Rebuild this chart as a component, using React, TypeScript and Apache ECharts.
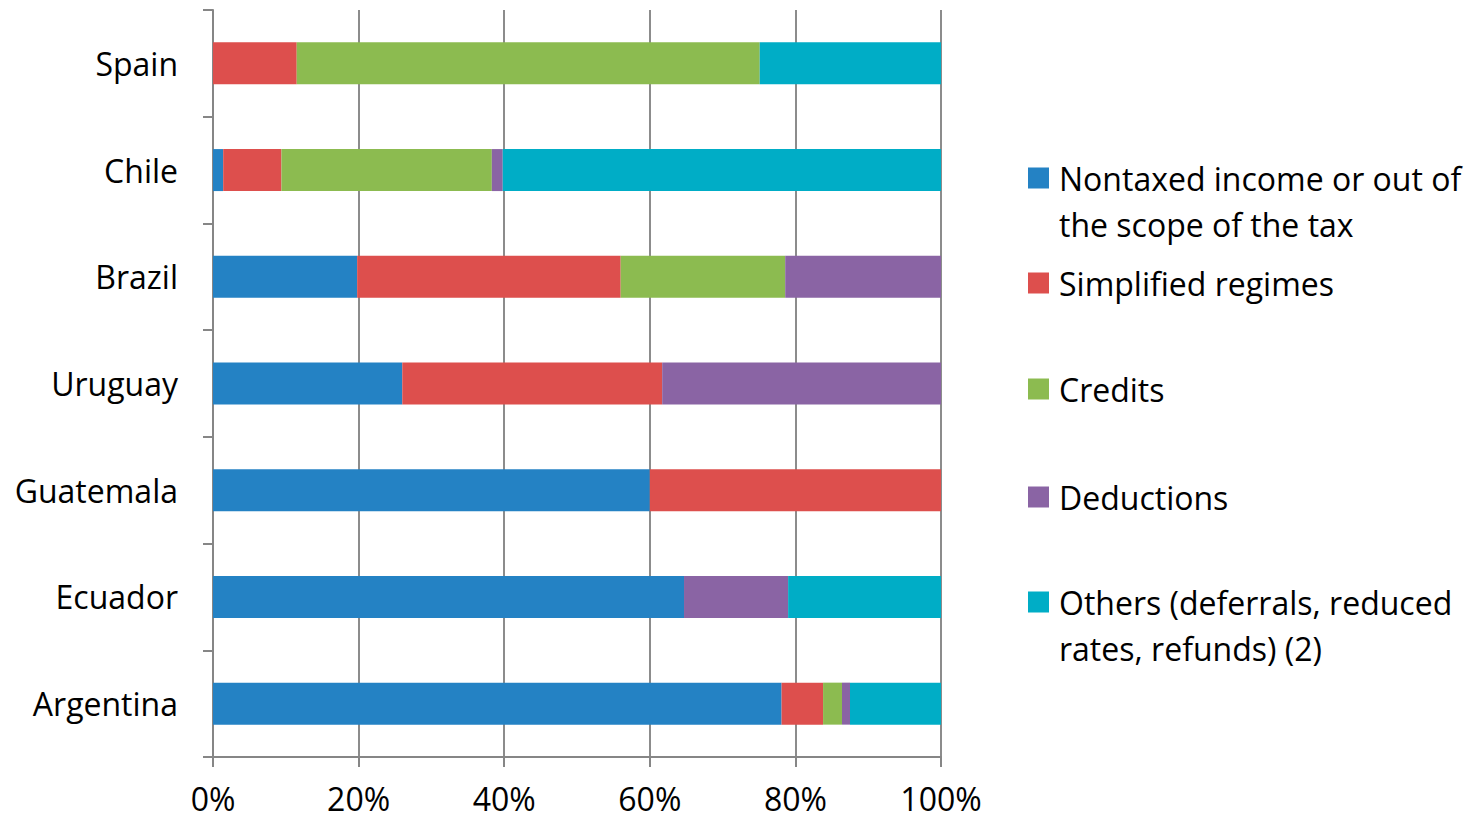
import React, { useEffect, useRef } from "react";
import * as echarts from "echarts";

const categories = ["Argentina", "Ecuador", "Guatemala", "Uruguay", "Brazil", "Chile", "Spain"];
const seriesNames = [
  "Nontaxed income or out of the scope of the tax",
  "Simplified regimes",
  "Credits",
  "Deductions",
  "Others (deferrals, reduced rates, refunds) (2)",
];
const legendLabels = [
  "Nontaxed income or out of\nthe scope of the tax",
  "Simplified regimes",
  "Credits",
  "Deductions",
  "Others (deferrals, reduced\nrates, refunds) (2)",
];
const nontaxed = [78.1, 64.7, 60.0, 26.0, 19.8, 1.4, 0];
const simplified = [5.7, 0, 40.0, 35.7, 36.2, 8.0, 11.5];
const credits = [2.6, 0, 0, 0, 22.6, 28.9, 63.6];
const deductions = [1.1, 14.3, 0, 38.3, 21.4, 1.5, 0];
const others = [12.5, 21.0, 0, 0, 0, 60.2, 24.9];
const xTicks = [0, 20, 40, 60, 80, 100];

const colors = ["#2482C4", "#DD4F4D", "#8CBB50", "#8A64A4", "#00ADC6"];
const FONT = "Open Sans";
const FS = 32;

// square icon at top, with an invisible point below to keep the first text line aligned with it
const TALL_ICON = "path://M0,0L21,0L21,21L0,21Z M0,67L0,67Z";

export default function App() {
  const ref = useRef<HTMLDivElement>(null);
  useEffect(() => {
    if (!ref.current) return;
    const chart = echarts.init(ref.current, null, { renderer: "svg" });
    const values = [nontaxed, simplified, credits, deductions, others];
    const iconCenters = [178, 283, 389, 497, 602];
    const twoLine = [true, false, false, false, true];
    chart.setOption({
      animation: false,
      textStyle: { fontFamily: FONT },
      grid: { left: 213, right: 534, top: 10, bottom: 63, containLabel: false },
      xAxis: {
        type: "value",
        min: xTicks[0],
        max: xTicks[xTicks.length - 1],
        interval: 20,
        axisLine: { show: true, lineStyle: { color: "#868686", width: 2 } },
        axisTick: { show: true, length: 10, lineStyle: { color: "#868686", width: 2 } },
        splitLine: { show: true, lineStyle: { color: "#8c8c8c", width: 2 } },
        axisLabel: {
          formatter: (v: number) => v + "%",
          color: "#000",
          fontSize: FS,
          fontFamily: FONT,
          lineHeight: 28,
          margin: 27,
        },
      },
      yAxis: {
        type: "category",
        data: categories,
        axisLine: { show: true, lineStyle: { color: "#868686", width: 2 } },
        axisTick: { show: true, length: 10, lineStyle: { color: "#868686", width: 2 } },
        axisLabel: { color: "#000", fontSize: FS, fontFamily: FONT, margin: 35 },
      },
      legend: seriesNames.map((name, i) => ({
        show: true,
        left: 1028,
        top: twoLine[i] ? iconCenters[i] - 10.5 - 12.5 : iconCenters[i] - 23,
        padding: 0,
        itemWidth: 21,
        itemHeight: twoLine[i] ? 67 : 21,
        icon: twoLine[i] ? TALL_ICON : "rect",
        selectedMode: false,
        data: [name],
        formatter: () => legendLabels[i],
        textStyle: {
          color: "#000",
          fontSize: FS,
          fontFamily: FONT,
          lineHeight: 46,
          padding: [0, 0, 0, 5],
        },
      })),
      series: seriesNames.map((name, i) => ({
        name,
        type: "bar",
        stack: "total",
        barWidth: 42,
        data: values[i],
        itemStyle: { color: colors[i] },
      })),
    });
    return () => chart.dispose();
  }, []);
  return <div ref={ref} style={{ width: 1475, height: 820, position: "absolute", left: 0, top: 0 }} />;
}
